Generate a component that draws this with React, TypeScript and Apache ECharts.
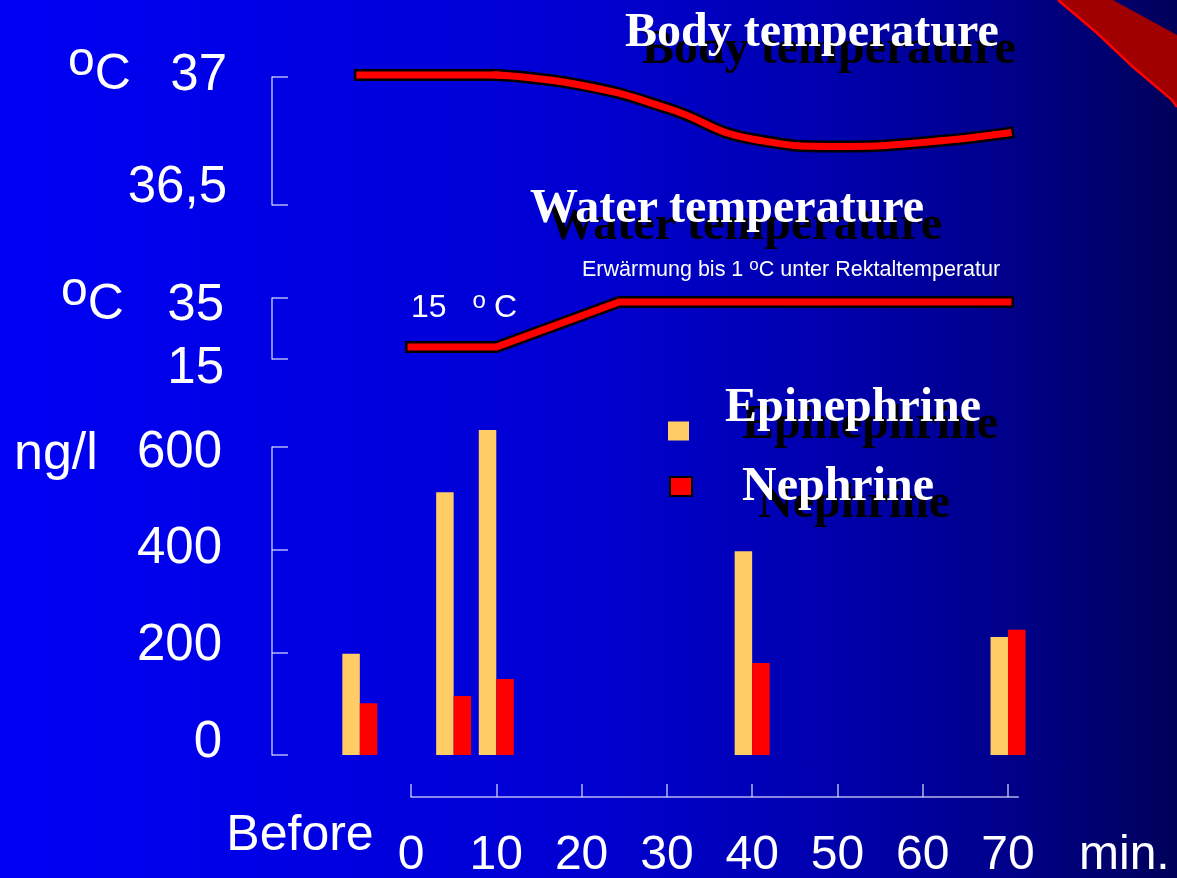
import React, { useEffect, useRef } from 'react';
import * as echarts from 'echarts';

// ---------- data ----------
// "Before" sample is drawn to the left of minute 0
const BEFORE = -6;
const barTimes = [BEFORE, 5, 10, 40, 70];
const epinephrine = [197, 512, 633, 397, 230];
const nephrine = [101, 115, 148, 179, 244];

const bodyFlatTimes = [BEFORE, 10];
const bodyFlatValues = [37.008, 37.008];
const bodyCurveTimes = [10, 20, 30, 40, 50, 60, 70];
const bodyCurveValues = [37.008, 36.968, 36.879, 36.758, 36.729, 36.744, 36.781];

const waterTimes = [0, 10, 24.4, 70];
const waterValues = [18.9, 18.9, 33.7, 33.7];

const bodyTicks = [36.5, 37];
const bodyTickLabels = ['36,5', '37'];
const waterTicks = [15, 35];
const waterTickLabels = ['15', '35'];
const ngTicks = [0, 200, 400, 600];
const ngTickLabels = ['0', '200', '400', '600'];

// ---------- layout ----------
const W = 1177;
const H = 878;
const AXIS_X = 272;
const X0 = 411; // pixel of minute 0
const PX = 8.529; // pixels per minute
const XMIN = -(X0 - AXIS_X) / PX;
const XMAX = 75;
const GW = (XMAX - XMIN) * PX;
const TIME_MAX = 71.2;

const SANS = '"Liberation Sans", Arial, Helvetica, sans-serif';
const SERIF = '"Liberation Serif", "Times New Roman", serif';
const AXIS_COLOR = 'rgba(225,225,255,0.8)';
const BIG = 50;
const SH = 17; // shadow offset

const zip = (xs: number[], ys: number[]) => xs.map((x, i) => [x, ys[i]]);

// per-label vertical nudges (label centre minus tick, px)
function labelSpec(ticks: number[], texts: string[], shifts: number[]) {
  const rich: Record<string, any> = {};
  shifts.forEach((s, i) => {
    rich['l' + i] = {
      color: '#fff',
      fontFamily: SANS,
      fontSize: 51,
      padding: s < 0 ? [0, 0, -2 * s, 0] : [2 * s, 0, 0, 0],
    };
  });
  return {
    formatter: (v: number) => {
      const i = ticks.findIndex((t) => Math.abs(t - v) < 1e-6);
      return i < 0 ? '' : `{l${i}|${texts[i]}}`;
    },
    rich,
  };
}

const titleStyle = {
  color: '#fff',
  fontFamily: SERIF,
  fontWeight: 'bold' as const,
  fontSize: 48,
};

function yAxis(gridIndex: number, min: number, max: number, ticks: number[], texts: string[], shifts: number[], margin: number) {
  const spec = labelSpec(ticks, texts, shifts);
  return {
    type: 'value',
    gridIndex,
    min,
    max,
    axisLine: { show: true, onZero: false, lineStyle: { color: AXIS_COLOR, width: 1.5 } },
    axisTick: { show: true, inside: true, length: 16, customValues: ticks, lineStyle: { color: AXIS_COLOR, width: 1.5 } },
    axisLabel: {
      show: true,
      customValues: ticks,
      margin,
      color: '#fff',
      fontFamily: SANS,
      fontSize: 51,
      formatter: spec.formatter,
      rich: spec.rich,
    },
    splitLine: { show: false },
  };
}

function hiddenX(gridIndex: number) {
  return { type: 'value', gridIndex, min: XMIN, max: XMAX, show: false, splitLine: { show: false } };
}

function lineSeries(name: string, xi: number, data: number[][], color: string, width: number, smooth: number | boolean, z: number) {
  return {
    name,
    type: 'line',
    xAxisIndex: xi,
    yAxisIndex: xi,
    data,
    symbol: 'none',
    smooth,
    clip: false,
    silent: true,
    z,
    lineStyle: { color, width, cap: 'square', join: 'miter' },
  };
}

const unitRich = {
  o: { fontSize: 48, fontFamily: SANS, fill: '#fff', padding: [0, 0, 28, 0] },
  c: { fontSize: BIG, fontFamily: SANS, fill: '#fff' },
};

function shadowText(text: string, x: number, y: number) {
  return {
    type: 'text',
    x: x + SH,
    y: y + SH,
    silent: true,
    z: -1,
    style: { text, fill: '#000', fontFamily: SERIF, fontWeight: 'bold', fontSize: 48, verticalAlign: 'middle', align: 'left' },
  };
}

const option: any = {
  animation: false,
  grid: [
    { left: AXIS_X, top: 77, width: GW, height: 128 },
    { left: AXIS_X, top: 298, width: GW, height: 61 },
    { left: AXIS_X, top: 447, width: GW, height: 308 },
    { left: X0, top: 796, width: TIME_MAX * PX, height: 1 },
  ],
  title: [
    { text: 'Body temperature', left: 625, top: 5, padding: 0, textStyle: titleStyle },
    { text: 'Water temperature', left: 530, top: 181, padding: 0, textStyle: titleStyle },
  ],
  legend: [
    {
      data: ['Epinephrine'],
      left: 668,
      top: 380,
      padding: 0,
      icon: 'rect',
      itemWidth: 21,
      itemHeight: 19,
      selectedMode: false,
      formatter: (n: string) => `{t|${n}}`,
      textStyle: { rich: { t: { ...titleStyle, padding: [0, 0, 54, 31] } } },
    },
    {
      data: ['Nephrine'],
      left: 669,
      top: 459,
      padding: 0,
      icon: 'rect',
      itemWidth: 22,
      itemHeight: 19,
      selectedMode: false,
      itemStyle: { borderColor: '#000', borderWidth: 2 },
      formatter: (n: string) => `{t|${n}}`,
      textStyle: { rich: { t: { ...titleStyle, padding: [0, 0, 7, 45] } } },
    },
  ],
  xAxis: [
    hiddenX(0),
    hiddenX(1),
    hiddenX(2),
    {
      type: 'value',
      gridIndex: 3,
      min: 0,
      max: TIME_MAX,
      interval: 10,
      axisLine: { show: true, onZero: false, lineStyle: { color: AXIS_COLOR, width: 1.5 } },
      axisTick: { show: true, inside: true, length: 13, lineStyle: { color: AXIS_COLOR, width: 1.5 } },
      axisLabel: { show: true, margin: 31, color: '#fff', fontFamily: SANS, fontSize: 48, showMaxLabel: false },
      splitLine: { show: false },
    },
  ],
  yAxis: [
    yAxis(0, 36.5, 37, bodyTicks, bodyTickLabels, [-20.5, -4.5], 45),
    yAxis(1, 15, 35, waterTicks, waterTickLabels, [6, 4.5], 48),
    yAxis(2, 0, 600, ngTicks, ngTickLabels, [-15.5, -9.8, -4.2, 2.5], 50),
    { type: 'value', gridIndex: 3, show: false, min: 0, max: 1 },
  ],
  series: [
    lineSeries('Body temperature outline', 0, zip(bodyFlatTimes, bodyFlatValues), '#000', 12, false, 2),
    lineSeries('Body temperature outline 2', 0, zip(bodyCurveTimes, bodyCurveValues), '#000', 12, 0.5, 2),
    lineSeries('Body temperature', 0, zip(bodyFlatTimes, bodyFlatValues), '#FF0000', 7, false, 3),
    lineSeries('Body temperature 2', 0, zip(bodyCurveTimes, bodyCurveValues), '#FF0000', 7, 0.5, 3),
    lineSeries('Water temperature outline', 1, zip(waterTimes, waterValues), '#000', 12, false, 2),
    lineSeries('Water temperature', 1, zip(waterTimes, waterValues), '#FF0000', 7, false, 3),
    {
      name: 'Epinephrine',
      type: 'bar',
      xAxisIndex: 2,
      yAxisIndex: 2,
      data: zip(barTimes, epinephrine),
      barWidth: 17.5,
      barGap: '0%',
      clip: false,
      silent: true,
      itemStyle: { color: '#FFCC66' },
    },
    {
      name: 'Nephrine',
      type: 'bar',
      xAxisIndex: 2,
      yAxisIndex: 2,
      data: zip(barTimes, nephrine),
      barWidth: 17.5,
      barGap: '0%',
      clip: false,
      silent: true,
      itemStyle: { color: '#FF0000' },
    },
  ],
  graphic: [
    {
      type: 'rect',
      z: -10,
      silent: true,
      shape: { x: 0, y: 0, width: W, height: H },
      style: {
        fill: new echarts.graphic.LinearGradient(0, 0, 1, 0, [
          { offset: 0, color: '#0000F5' },
          { offset: 0.49, color: '#0000D2' },
          { offset: 0.7, color: '#0000AE' },
          { offset: 0.85, color: '#00008C' },
          { offset: 1, color: '#00005A' },
        ]),
      },
    },
    {
      type: 'polygon',
      z: -5,
      silent: true,
      shape: { points: [[1058, 0], [1113, 0], [1177, 35], [1177, 107], [1172, 100], [1133, 67], [1097, 33]] },
      style: { fill: '#A00000' },
    },
    {
      type: 'polyline',
      z: -4,
      silent: true,
      shape: { points: [[1058, 0], [1097, 33], [1133, 67], [1172, 100], [1177, 107]] },
      style: { stroke: '#FF0000', lineWidth: 2.5, fill: null },
    },
    shadowText('Body temperature', 625, 29),
    shadowText('Water temperature', 531, 205),
    shadowText('Epinephrine', 725, 404),
    shadowText('Nephrine', 741, 483),
    {
      type: 'text',
      x: 68,
      y: 72,
      style: { text: '{o|o}{c|C}', rich: unitRich, verticalAlign: 'middle', align: 'left' },
    },
    {
      type: 'text',
      x: 61,
      y: 302,
      style: { text: '{o|o}{c|C}', rich: unitRich, verticalAlign: 'middle', align: 'left' },
    },
    {
      type: 'text',
      x: 14,
      y: 451,
      style: { text: 'ng/l', fill: '#fff', fontFamily: SANS, fontSize: 52, verticalAlign: 'middle', align: 'left' },
    },
    {
      type: 'text',
      x: 300,
      y: 833,
      style: { text: 'Before', fill: '#fff', fontFamily: SANS, fontSize: BIG, verticalAlign: 'middle', align: 'center' },
    },
    {
      type: 'text',
      x: 1079,
      y: 852,
      style: { text: 'min.', fill: '#fff', fontFamily: SANS, fontSize: 48, verticalAlign: 'middle', align: 'left' },
    },
    {
      type: 'text',
      x: 411,
      y: 306,
      style: {
        text: '{n|15}{o|o}{n|C}',
        verticalAlign: 'middle',
        align: 'left',
        rich: {
          n: { fontSize: 32, fontFamily: SANS, fill: '#fff' },
          o: { fontSize: 24, fontFamily: SANS, fill: '#fff', padding: [0, 8, 14, 26] },
        },
      },
    },
    {
      type: 'text',
      x: 582,
      y: 269,
      style: {
        text: '{a|Erwärmung bis 1 }{o|o}{a|C unter Rektaltemperatur}',
        verticalAlign: 'middle',
        align: 'left',
        rich: {
          a: { fontSize: 21.5, fontFamily: SANS, fill: '#fff' },
          o: { fontSize: 17, fontFamily: SANS, fill: '#fff', padding: [0, 0, 10, 0] },
        },
      },
    },
  ],
};

export default function App() {
  const ref = useRef<HTMLDivElement>(null);
  useEffect(() => {
    if (!ref.current) return;
    const chart = echarts.init(ref.current, null, { renderer: 'svg', width: W, height: H });
    chart.setOption(option);
    return () => chart.dispose();
  }, []);
  return <div ref={ref} style={{ position: 'fixed', left: 0, top: 0, width: W, height: H }} />;
}
